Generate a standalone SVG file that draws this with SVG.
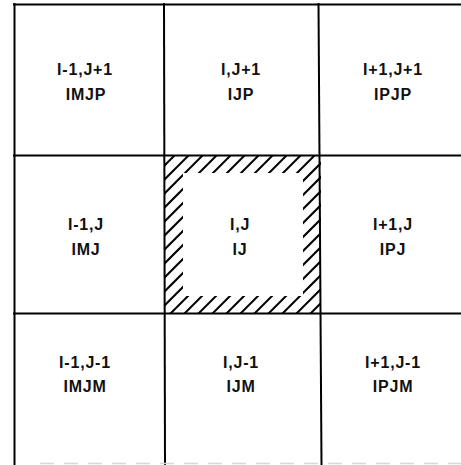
<svg xmlns="http://www.w3.org/2000/svg" width="461" height="465" viewBox="0 0 461 465">
  <style>
    .grid line { stroke: #000; stroke-width: 2; fill: none; }
    .lbl { font-family: "Liberation Sans", Arial, sans-serif; font-weight: bold; font-size: 16px; letter-spacing: 0.8px; fill: #111; text-anchor: middle; }
    .hatch line { stroke: #000; stroke-width: 2; }
  </style>
  <defs>
    <clipPath id="frameClip">
      <path clip-rule="evenodd" d="M165,156 H321 V313 H165 Z M183,173 V296 H303 V173 Z"/>
    </clipPath>
  </defs>
  <rect width="461" height="465" fill="#fff"/>

  <g id="grid" class="grid">
    <line x1="14.5" y1="3" x2="14.5" y2="465"/>
    <line x1="164" y1="3" x2="165" y2="465"/>
    <line x1="318.5" y1="3" x2="321.5" y2="465"/>
    <line x1="13" y1="4.5" x2="461" y2="4.5"/>
    <line x1="13" y1="155.5" x2="461" y2="155.5"/>
    <line x1="13" y1="313.5" x2="461" y2="313.5"/>
    <line x1="40" y1="463.5" x2="461" y2="463.5" style="stroke:#d8d8d8;stroke-width:1.5;stroke-dasharray:14 10"/>
  </g>

  <g id="hatch" class="hatch" clip-path="url(#frameClip)">
    <line x1="10" y1="320" x2="180" y2="150"/>
    <line x1="24" y1="320" x2="194" y2="150"/>
    <line x1="38" y1="320" x2="208" y2="150"/>
    <line x1="52" y1="320" x2="222" y2="150"/>
    <line x1="66" y1="320" x2="236" y2="150"/>
    <line x1="80" y1="320" x2="250" y2="150"/>
    <line x1="94" y1="320" x2="264" y2="150"/>
    <line x1="108" y1="320" x2="278" y2="150"/>
    <line x1="122" y1="320" x2="292" y2="150"/>
    <line x1="136" y1="320" x2="306" y2="150"/>
    <line x1="150" y1="320" x2="320" y2="150"/>
    <line x1="164" y1="320" x2="334" y2="150"/>
    <line x1="178" y1="320" x2="348" y2="150"/>
    <line x1="192" y1="320" x2="362" y2="150"/>
    <line x1="206" y1="320" x2="376" y2="150"/>
    <line x1="220" y1="320" x2="390" y2="150"/>
    <line x1="234" y1="320" x2="404" y2="150"/>
    <line x1="248" y1="320" x2="418" y2="150"/>
    <line x1="262" y1="320" x2="432" y2="150"/>
    <line x1="276" y1="320" x2="446" y2="150"/>
    <line x1="290" y1="320" x2="460" y2="150"/>
    <line x1="304" y1="320" x2="474" y2="150"/>
    <line x1="318" y1="320" x2="488" y2="150"/>
  </g>

  <g id="cell-IMJP">
    <text class="lbl" x="85" y="75">I-1,J+1</text>
    <text class="lbl" x="86" y="100">IMJP</text>
  </g>
  <g id="cell-IJP">
    <text class="lbl" x="241" y="75">I,J+1</text>
    <text class="lbl" x="241" y="100">IJP</text>
  </g>
  <g id="cell-IPJP">
    <text class="lbl" x="393" y="75">I+1,J+1</text>
    <text class="lbl" x="393" y="100">IPJP</text>
  </g>
  <g id="cell-IMJ">
    <text class="lbl" x="86" y="230">I-1,J</text>
    <text class="lbl" x="86" y="255">IMJ</text>
  </g>
  <g id="cell-IJ">
    <text class="lbl" x="240" y="230">I,J</text>
    <text class="lbl" x="240" y="255">IJ</text>
  </g>
  <g id="cell-IPJ">
    <text class="lbl" x="393" y="230">I+1,J</text>
    <text class="lbl" x="393" y="255">IPJ</text>
  </g>
  <g id="cell-IMJM">
    <text class="lbl" x="85" y="368">I-1,J-1</text>
    <text class="lbl" x="85" y="392">IMJM</text>
  </g>
  <g id="cell-IJM">
    <text class="lbl" x="241" y="368">I,J-1</text>
    <text class="lbl" x="241" y="392">IJM</text>
  </g>
  <g id="cell-IPJM">
    <text class="lbl" x="393" y="368">I+1,J-1</text>
    <text class="lbl" x="393" y="392">IPJM</text>
  </g>
</svg>
